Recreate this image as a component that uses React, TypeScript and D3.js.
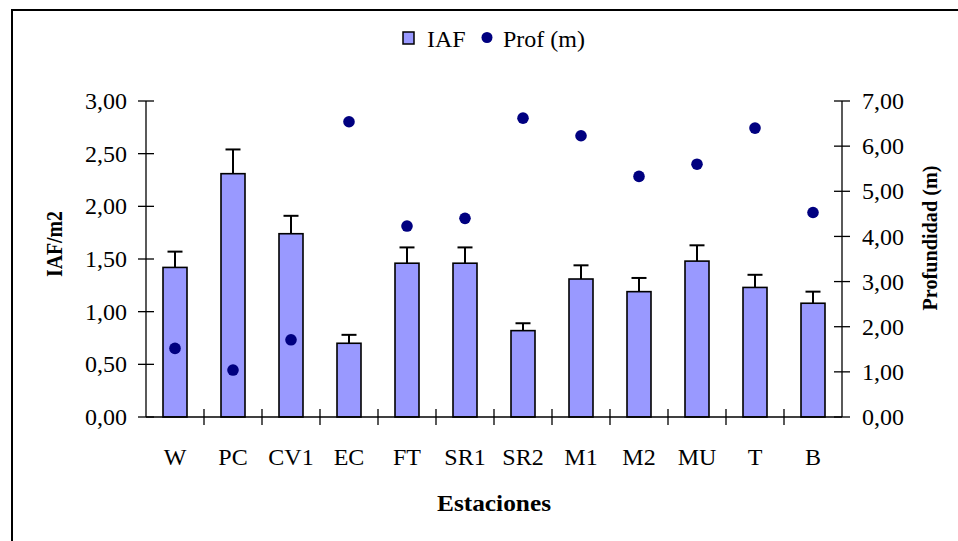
import React from 'react';
import * as d3 from 'd3';

// data
const estaciones = ['W', 'PC', 'CV1', 'EC', 'FT', 'SR1', 'SR2', 'M1', 'M2', 'MU', 'T', 'B'];
const iaf = [1.42, 2.31, 1.74, 0.7, 1.46, 1.46, 0.82, 1.31, 1.19, 1.48, 1.23, 1.08];
const iafErr = [0.15, 0.23, 0.17, 0.08, 0.15, 0.15, 0.07, 0.13, 0.13, 0.15, 0.12, 0.11];
const profundidad = [1.52, 1.04, 1.71, 6.54, 4.23, 4.4, 6.62, 6.23, 5.33, 5.6, 6.4, 4.53];
const leftTicks = [0, 0.5, 1, 1.5, 2, 2.5, 3];
const rightTicks = [0, 1, 2, 3, 4, 5, 6, 7];

const W = 958;
const H = 541;
const margin = {top: 101, right: 116, bottom: 124, left: 146};
const font = '"Liberation Serif", "Times New Roman", serif';
const fmt = (v: number, d: number) => v.toFixed(d).replace('.', ',');

export default function App() {
  const x = d3
    .scaleBand()
    .domain(estaciones)
    .range([margin.left, W - margin.right]);
  const y = d3.scaleLinear().domain([0, 3]).range([H - margin.bottom, margin.top]);
  const y2 = d3.scaleLinear().domain([0, 7]).range([H - margin.bottom, margin.top]);
  const base = y(0);
  const barW = 24;
  const x0 = margin.left;
  const x1 = W - margin.right;

  return (
    <svg
      width={W}
      height={H}
      style={{position: 'absolute', left: 0, top: 0, background: '#fff'}}
      fontFamily={font}
    >
      <rect x={12} y={10} width={980} height={580} fill="none" stroke="#000" strokeWidth={2} />

      {/* legend */}
      <g>
        <rect x={403} y={32} width={11} height={12} fill="#9999FF" stroke="#000" strokeWidth={1.5} />
        <text x={427} y={47} fontSize={24}>IAF</text>
        <circle cx={487} cy={37.5} r={5.5} fill="#000080" />
        <text x={503} y={47} fontSize={24}>Prof (m)</text>
      </g>

      {/* bars */}
      {estaciones.map((d, i) => {
        const cx = (x(d) as number) + x.bandwidth() / 2;
        return (
          <g key={d}>
            <line x1={cx} x2={cx} y1={y(iaf[i])} y2={y(iaf[i] + iafErr[i])} stroke="#000" strokeWidth={2} />
            <line x1={cx - 7.5} x2={cx + 7.5} y1={y(iaf[i] + iafErr[i])} y2={y(iaf[i] + iafErr[i])} stroke="#000" strokeWidth={2} />
            <rect
              x={cx - barW / 2}
              y={y(iaf[i])}
              width={barW}
              height={base - y(iaf[i])}
              fill="#9999FF"
              stroke="#000"
              strokeWidth={1.6}
            />
          </g>
        );
      })}

      {/* axes */}
      <line x1={x0} x2={x0} y1={margin.top} y2={base} stroke="#000" strokeWidth={1.3} />
      <line x1={x1} x2={x1} y1={margin.top} y2={base} stroke="#000" strokeWidth={1.3} />
      <line x1={x0} x2={x1} y1={base} y2={base} stroke="#000" strokeWidth={1.3} />
      {leftTicks.map(t => (
        <g key={'l' + t}>
          <line x1={x0 - 8} x2={x0 + 8} y1={y(t)} y2={y(t)} stroke="#000" strokeWidth={1.3} />
          <text x={127} y={y(t)} dy="0.34em" textAnchor="end" fontSize={24}>
            {fmt(t, 2)}
          </text>
        </g>
      ))}
      {rightTicks.map(t => (
        <g key={'r' + t}>
          <line x1={x1 - 8} x2={x1 + 8} y1={y2(t)} y2={y2(t)} stroke="#000" strokeWidth={1.3} />
          <text x={862} y={y2(t)} dy="0.34em" textAnchor="start" fontSize={24}>
            {fmt(t, 2)}
          </text>
        </g>
      ))}
      {estaciones.map((d, i) => {
        const bx = (x(d) as number) + x.bandwidth();
        return i < estaciones.length - 1 ? (
          <line key={'t' + d} x1={bx} x2={bx} y1={base - 8} y2={base + 8} stroke="#000" strokeWidth={1.3} />
        ) : null;
      })}
      {estaciones.map(d => (
        <text
          key={'lab' + d}
          x={(x(d) as number) + x.bandwidth() / 2}
          y={465}
          textAnchor="middle"
          fontSize={24}
        >
          {d}
        </text>
      ))}

      {/* depth points */}
      {estaciones.map((d, i) => (
        <circle
          key={'p' + d}
          cx={(x(d) as number) + x.bandwidth() / 2}
          cy={y2(profundidad[i])}
          r={5.8}
          fill="#000080"
        />
      ))}

      {/* axis titles */}
      <text
        transform="translate(62,244) rotate(-90)"
        textAnchor="middle"
        fontSize={24}
        fontWeight="bold"
        textLength={66}
        lengthAdjust="spacingAndGlyphs"
      >
        IAF/m2
      </text>
      <text
        transform="translate(937,238) rotate(-90)"
        textAnchor="middle"
        fontSize={22}
        fontWeight="bold"
        textLength={145}
        lengthAdjust="spacingAndGlyphs"
      >
        Profundidad (m)
      </text>
      <text x={494} y={511} textAnchor="middle" fontSize={24} fontWeight="bold" textLength={114} lengthAdjust="spacingAndGlyphs">
        Estaciones
      </text>
    </svg>
  );
}
